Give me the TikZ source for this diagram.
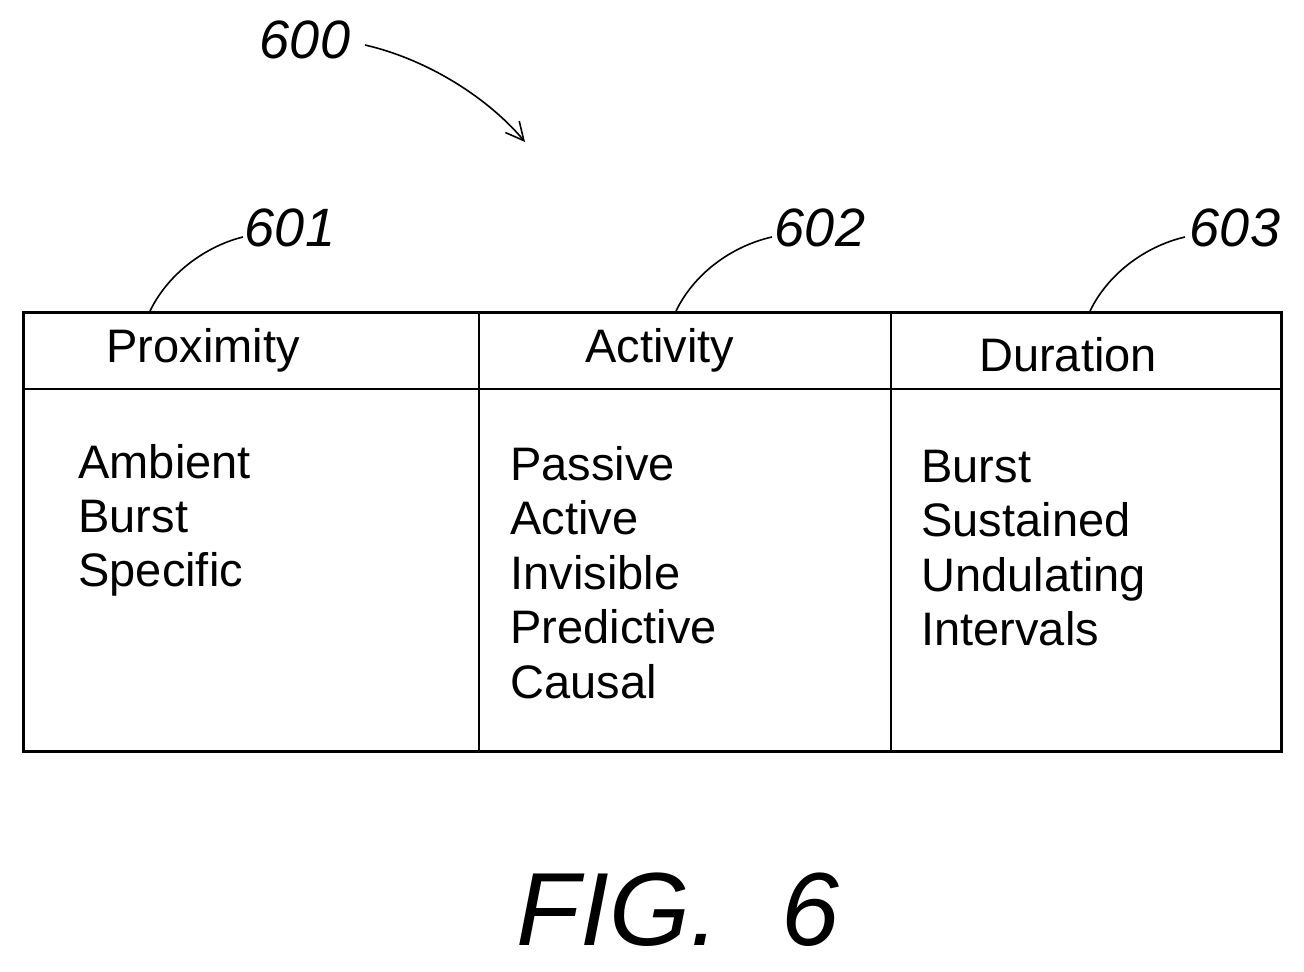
\documentclass[tikz,border=0pt]{standalone}
\usepackage{fontspec}
\setmainfont{Liberation Sans}
\usetikzlibrary{arrows.meta}
\begin{document}
\begin{tikzpicture}[x=0.5pt,y=-0.5pt,
  txt/.style={inner sep=0pt,font=\fontsize{23.5}{27}\selectfont},
  itm/.style={txt,anchor=base west},
  lbl/.style={inner sep=0pt,font=\fontsize{27}{30}\selectfont\itshape},
  lead/.style={line width=0.8pt}]
\useasboundingbox (0,0) rectangle (1304,972);
\node[draw,line width=1.6pt,minimum width=629pt,minimum height=219.5pt,anchor=north west,inner sep=0pt] (tab) at (22,311) {};
\draw[line width=1pt] (22,389) -- (1280,389);
\draw[line width=1pt] (479,311) -- (479,750);
\draw[line width=1pt] (891,311) -- (891,750);
\node[txt] (h1) at (203,350) {Proximity};
\node[txt] (h2) at (660,350) {Activity};
\node[txt] (h3) at (1068,355) {Duration};
\foreach \t [count=\i] in {Ambient,Burst,Specific}
  \node[itm] (a\i) at (78,{478+54*(\i-1)}) {\t};
\foreach \t [count=\i] in {Passive,Active,Invisible,Predictive,Causal}
  \node[itm] (b\i) at (510,{480+54.5*(\i-1)}) {\t};
\foreach \t [count=\i] in {Burst,Sustained,Undulating,Intervals}
  \node[itm] (d\i) at (921,{482+54.5*(\i-1)}) {\t};
\node[lbl] (l600) at (305,40) {600};
\node[lbl] (l601) at (290,228) {601};
\node[lbl] (l602) at (820,228) {602};
\node[lbl] (l603) at (1235,228) {603};
\coordinate (a600) at (525,142);
\draw[lead,-{Straight Barb[length=9pt,width=9pt]}] (365,45) .. controls (430,60) and (490,100) .. (a600);
\coordinate (p1) at (150,311); \coordinate (p2) at (676,311); \coordinate (p3) at (1090,311);
\draw[lead] (p1) .. controls (170,270) and (210,245) .. (243,237);
\draw[lead] (p2) .. controls (696,270) and (736,245) .. (772,237);
\draw[lead] (p3) .. controls (1110,270) and (1150,245) .. (1185,237);
\node[inner sep=0pt,font=\fontsize{52}{56}\selectfont\itshape] (fig) at (678,910) {FIG.\hspace{0.6em}6};
\end{tikzpicture}
\end{document}
